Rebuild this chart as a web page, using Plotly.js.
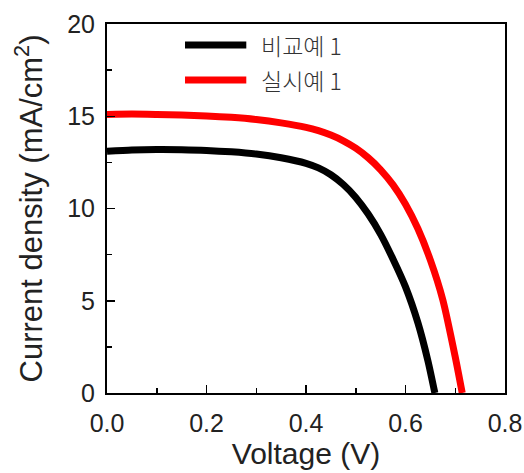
<!DOCTYPE html>
<html>
<head>
<meta charset="utf-8">
<script src="https://cdn.plot.ly/plotly-3.0.1.min.js"></script>
<style>html,body{margin:0;padding:0;background:#fff;}#chart{width:524px;height:473px;}</style>
</head>
<body>
<div id="chart"></div>
<script>
const seriesNames = ["비교예 1", "실시예 1"];
const voltageComp = [0, 0.05, 0.1, 0.15, 0.2, 0.25, 0.3, 0.35, 0.4, 0.425, 0.45, 0.475, 0.5, 0.525, 0.55, 0.575, 0.6, 0.625, 0.645, 0.659];
const currentComp = [13.1, 13.17, 13.2, 13.19, 13.15, 13.07, 12.95, 12.75, 12.45, 12.2, 11.83, 11.3, 10.6, 9.7, 8.6, 7.25, 5.75, 3.8, 1.75, 0];
const voltageEx = [0, 0.05, 0.1, 0.15, 0.2, 0.25, 0.3, 0.35, 0.4, 0.425, 0.45, 0.475, 0.5, 0.525, 0.55, 0.575, 0.6, 0.625, 0.65, 0.675, 0.7, 0.714];
const currentEx = [15.1, 15.12, 15.1, 15.07, 15.02, 14.94, 14.82, 14.64, 14.4, 14.22, 13.98, 13.67, 13.27, 12.75, 12.1, 11.28, 10.23, 8.9, 7.2, 5.05, 1.95, 0];
const xTicks = [0, 0.2, 0.4, 0.6, 0.8];
const xTickText = ["0.0", "0.2", "0.4", "0.6", "0.8"];
const yTicks = [0, 5, 10, 15, 20];
const colors = ["#000000", "#ff0000"];

const traces = [
  {x: voltageComp, y: currentComp, mode: "lines", name: seriesNames[0], line: {color: colors[0], width: 7, shape: "spline", smoothing: 0.7}},
  {x: voltageEx, y: currentEx, mode: "lines", name: seriesNames[1], line: {color: colors[1], width: 7, shape: "spline", smoothing: 0.7}}
];

const fontMain = "Liberation Sans, Arial, sans-serif";
const legendY = [0.943, 0.848];
const shapes = [];
const annotations = [];
seriesNames.forEach((n, i) => {
  shapes.push({type: "line", xref: "paper", yref: "paper", x0: 0.196, x1: 0.35, y0: legendY[i], y1: legendY[i],
    line: {color: colors[i], width: 7}});
  annotations.push({xref: "paper", yref: "paper", x: 0.382, y: legendY[i], xanchor: "left", yanchor: "middle",
    text: n, showarrow: false, font: {family: "Noto Sans CJK KR, sans-serif", size: 23, color: "#333", weight: 300}});
});

const layout = {
  width: 524, height: 473,
  margin: {l: 107, r: 19, t: 24, b: 80},
  paper_bgcolor: "#fff", plot_bgcolor: "#fff",
  showlegend: false,
  font: {family: fontMain, color: "#222"},
  xaxis: {
    range: [0, 0.8], tickvals: xTicks, ticktext: xTickText,
    ticks: "inside", ticklen: 8, tickwidth: 1.5, tickcolor: "#000",
    minor: {dtick: 0.1, ticks: "inside", ticklen: 5, tickwidth: 1.5, tickcolor: "#000"},
    showline: true, linecolor: "#000", linewidth: 2, mirror: true,
    showgrid: false, zeroline: false, automargin: false,
    ticklabelstandoff: 7,
    tickfont: {size: 25, family: fontMain, color: "#222"},
    title: {text: "Voltage (V)", font: {size: 30, family: fontMain, color: "#222"}, standoff: 4}
  },
  yaxis: {
    range: [0, 20], tickvals: yTicks,
    ticks: "inside", ticklen: 8, tickwidth: 1.5, tickcolor: "#000",
    minor: {dtick: 2.5, ticks: "inside", ticklen: 5, tickwidth: 1.5, tickcolor: "#000"},
    showline: true, linecolor: "#000", linewidth: 2, mirror: true,
    showgrid: false, zeroline: false, automargin: false,
    ticklabelstandoff: 5,
    tickfont: {size: 25, family: fontMain, color: "#222"},
    title: {text: "Current density (mA/cm<sup>2</sup>)", font: {size: 31, family: fontMain, color: "#222"}, standoff: 15}
  },
  shapes: shapes,
  annotations: annotations
};

Plotly.newPlot("chart", traces, layout, {staticPlot: true, displayModeBar: false});
</script>
</body>
</html>
